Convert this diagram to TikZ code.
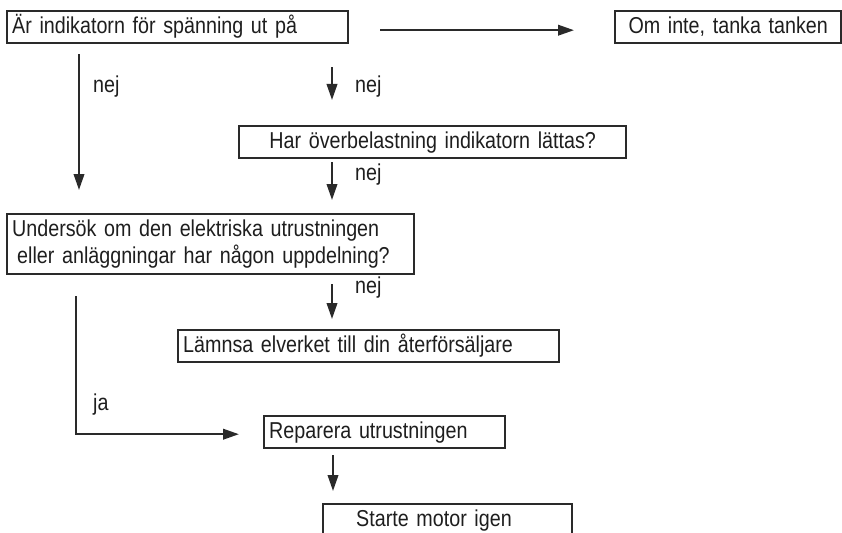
\documentclass[tikz,border=0pt]{standalone}
\usepackage{fontspec}
\setmainfont{Liberation Sans}[FakeStretch=0.857]
\usepackage{xcolor}
\usepackage{tikz}
\usetikzlibrary{arrows.meta,positioning}
\definecolor{ink}{HTML}{1E1E1E}
\definecolor{frame}{HTML}{2A2A2A}
\tikzset{
  >={Triangle[length=16pt,width=10.5pt]},
  stepbox/.style={draw=frame,line width=2.4pt,minimum height=32pt,anchor=north west,
    align=left,inner xsep=5pt,text height=17.5pt,text depth=4.5pt,text=ink,
    font=\fontsize{23pt}{27pt}\selectfont},
  flow/.style={->,line width=2.2pt,color=frame},
  answer/.style={anchor=base west,inner sep=0pt,text=ink,font=\fontsize{23pt}{27pt}\selectfont},
}

\begin{document}
\begin{tikzpicture}[x=1pt,y=-1pt]
  \clip (0,0) rectangle (842,532);

  \node[stepbox,text width=331pt] (q1) at (6,10) {Är indikatorn för spänning ut på};
  \node[stepbox,text width=216pt,align=center] (fuel) at (614,10) {Om inte, tanka tanken};
  \node[stepbox,text width=377pt,align=center] (q2) at (238,125) {Har överbelastning indikatorn lättas?};
  \node[stepbox,text width=397pt,text height=,text depth=,minimum height=60pt] (q3) at (6,213)
    {Undersök om den elektriska utrustningen\\\hspace*{5pt}eller anläggningar har någon uppdelning?};
  \node[stepbox,text width=371pt] (dealer) at (177,329) {Lämnsa elverket till din återförsäljare};
  \node[stepbox,text width=231pt] (repair) at (263,415) {Reparera utrustningen};
  \node[stepbox,inner xsep=33pt,text width=183pt] (restart) at (322,503) {Starte motor igen};

  \node[answer] (no1) at (93,93) {nej};
  \node[answer] (no2) at (355,93) {nej};
  \node[answer] (no3) at (355,180) {nej};
  \node[answer] (no4) at (355,293) {nej};
  \node[answer] (yes) at (93,410) {ja};

  \draw[flow] ([xshift=31pt,yshift=-3pt]q1.east) -- ([xshift=-40pt,yshift=-3pt]fuel.west);
  \draw[flow] ([xshift=73pt,yshift=-10pt]q1.south west) -- ([xshift=73pt,yshift=23pt]q3.north west);
  \draw[flow] ([xshift=326pt,yshift=-23pt]q1.south west) -- ([xshift=94pt,yshift=25pt]q2.north west);
  \draw[flow] ([xshift=94pt,yshift=-3pt]q2.south west) -- ([xshift=326pt,yshift=13pt]q3.north west);
  \draw[flow] ([xshift=326pt,yshift=-9pt]q3.south west) -- ([xshift=155pt,yshift=10pt]dealer.north west);
  \draw[flow] ([xshift=70pt,yshift=-21pt]q3.south west) |- ([xshift=-24pt,yshift=-2pt]repair.west);
  \draw[flow] ([xshift=70pt,yshift=-6pt]repair.south west) -- ([xshift=11pt,yshift=12pt]restart.north west);
\end{tikzpicture}
\end{document}
